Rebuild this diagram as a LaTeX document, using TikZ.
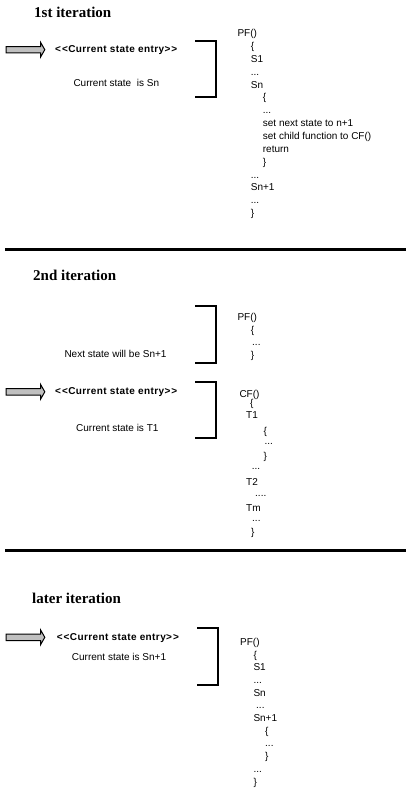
\documentclass[tikz,border=0pt]{standalone}
\usepackage{fontspec}
\setmainfont{Liberation Sans}
\newfontfamily\titlefont{Liberation Serif}
\definecolor{arrowgray}{RGB}{192,192,192}
\newcommand{\tdts}{.{}.{}.}
\newcommand{\fdts}{.{}.{}.{}.}
\newcommand{\entrytext}{<\hspace{1pt}<Current state entry>\hspace{1pt}>}
\tikzset{
  code/.style={anchor=base west, inner sep=0pt, font=\fontsize{10}{12}\selectfont},
  lbl/.style={anchor=base west, inner sep=0pt, font=\fontsize{10}{12}\selectfont},
  entry/.style={anchor=base west, inner sep=0pt, font=\fontsize{10}{12}\selectfont\bfseries\addfontfeature{LetterSpace=4}},
  ttl/.style={anchor=base west, inner sep=0pt, font=\titlefont\fontsize{15}{18}\selectfont\bfseries},
  bracket/.style={line width=2pt, line join=miter},
  sepline/.style={line width=3pt},
  entryarrow/.style={draw=black, fill=arrowgray, line width=1pt, line join=miter},
  entrypic/.pic={\draw[entryarrow] (0,-3.2) -- (34.5,-3.2) -- (34.5,-7.5) -- (38.8,0) -- (34.5,7.5) -- (34.5,3.2) -- (0,3.2) -- cycle;}
}
\begin{document}
\begin{tikzpicture}[x=1pt,y=-1pt]
\useasboundingbox (0,0) rectangle (408,801);
\fill[white] (0,0) rectangle (408,801);

% ---------- 1st iteration ----------
\node[ttl] (t1) at (34,17.5) {1st iteration};
\pic at (6,49.7) {entrypic};
\node[entry] (e1) at (55,52.5) {\entrytext};
\node[lbl] (l1) at (73.3,86.7) {Current state\hspace{2.8pt} is Sn};
\draw[bracket] (195,40.7) -- (216,40.7) -- (216,96.7) -- (195,96.7);
\foreach \x/\y/\t [count=\i] in {
  237.3/36.6/PF(),
  250.7/49.46/\{,
  250.7/62.32/S1,
  250.7/75.18/\tdts,
  250.7/88.04/Sn,
  262.7/100.9/\{,
  262.7/113.76/\tdts,
  262.7/126.62/set next state to n+1,
  262.7/139.48/set child function to CF(),
  262.7/152.34/return,
  262.7/165.2/\},
  250.7/178.06/\tdts,
  250.7/190.92/Sn+1,
  250.7/203.78/\tdts,
  250.7/216.64/\}}
  \node[code] (a\i) at (\x,\y) {\t};

\draw[sepline] (5,249.3) coordinate (sa) -- (406,249.3) coordinate (sb);

% ---------- 2nd iteration ----------
\node[ttl] (t2) at (33,280.5) {2nd iteration};
\draw[bracket] (195,305.7) -- (216,305.7) -- (216,362.7) -- (195,362.7);
\node[lbl] (n2) at (64.3,357) {Next state will be Sn+1};
\foreach \x/\y/\t [count=\i] in {
  237.3/320.6/PF(),
  250.7/333.1/\{,
  252/345.6/\tdts,
  250.7/358.1/\}}
  \node[code] (b\i) at (\x,\y) {\t};

\pic at (6,391.8) {entrypic};
\node[entry] (e2) at (55,394.6) {\entrytext};
\node[lbl] (l2) at (76,431.7) {Current state is T1};
\draw[bracket] (195,381.7) -- (216,381.7) -- (216,438.3) -- (195,438.3);
\foreach \x/\y/\t [count=\i] in {
  239.3/397.6/CF(),
  250/406.6/\{,
  246/418.6/T1,
  263.3/434.6/\{,
  264.3/444.5/\tdts,
  263.3/459.6/\},
  251.7/469.5/\tdts,
  246/485.6/T2,
  255/496.5/\fdts,
  246/511.6/Tm,
  252/521.5/\tdts,
  251/535.6/\}}
  \node[code] (c\i) at (\x,\y) {\t};

\draw[sepline] (5,550.7) coordinate (sc) -- (406,550.7) coordinate (sd);

% ---------- later iteration ----------
\node[ttl] (t3) at (32,603) {later iteration};
\pic at (6,637.3) {entrypic};
\node[entry] (e3) at (56.7,640.1) {\entrytext};
\node[lbl] (l3) at (71.7,660) {Current state is Sn+1};
\draw[bracket] (197,627.7) -- (218,627.7) -- (218,685) -- (197,685);
\foreach \x/\y/\t [count=\i] in {
  240/645.3/PF(),
  253.3/658/\{,
  253.3/670.7/S1,
  253.3/683.4/\tdts,
  253.3/696.1/Sn,
  256/708.8/\tdts,
  253.3/721.5/Sn+1,
  265/734.2/\{,
  265/746.9/\tdts,
  265/759.6/\},
  253.3/772.3/\tdts,
  253.3/785/\}}
  \node[code] (d\i) at (\x,\y) {\t};
\end{tikzpicture}
\end{document}
